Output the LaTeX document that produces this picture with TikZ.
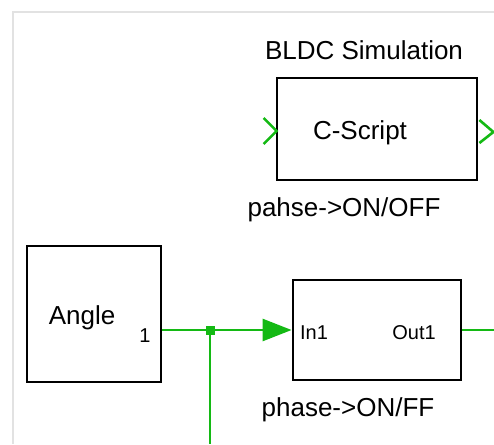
\documentclass[tikz,border=0pt]{standalone}
\usepackage{fontspec}
\setmainfont{Liberation Sans}
\usepackage{tikz}
\usetikzlibrary{positioning,arrows.meta}
\usepackage{xcolor}
\definecolor{wire}{RGB}{20,185,20}
\definecolor{sheet}{RGB}{226,226,226}

\begin{document}
\begin{tikzpicture}[x=1pt, y=-1pt,
    block/.style={draw, line width=2.8pt, rectangle, inner sep=0pt},
    sig/.style={draw=wire, line width=2.6pt},
    txt/.style={font=\fontsize{26}{30}\selectfont, inner sep=0pt},
    port/.style={font=\fontsize{20}{24}\selectfont, inner sep=0pt}]
    \useasboundingbox (0,0) rectangle (494,444);
    % sheet border
    \coordinate (sheetbl) at (13,444);
    \coordinate (sheettl) at (13,12);
    \coordinate (sheettr) at (494,12);
    \draw[sheet, line width=2pt] (sheetbl) -- (sheettl) -- (sheettr);

    % C-Script block
    \node[txt] (simname) at (364,50) {BLDC Simulation};
    \node[block, minimum width=200pt, minimum height=102pt] (script) at (377,129) {};
    \node[txt] (scripttxt) at (360,133) {C-Script};
    \node[txt] (scriptlbl) at (344,210) {pahse->ON/OFF};
    \draw[sig] ([shift={(-12,-11)}]script.west) -- ([shift={(1,2)}]script.west)
               -- ([shift={(-12,15)}]script.west);
    \draw[sig] ([shift={(1,-9)}]script.east) -- ([shift={(15,3)}]script.east)
               -- ([shift={(1,14)}]script.east);

    % Angle source
    \node[block, minimum width=134pt, minimum height=136pt] (angle) at (94,314) {};
    \node[txt] (angletxt) at (82,318) {Angle};
    \node[port] (angleport) at (145,336) {1};

    % subsystem
    \node[block, minimum width=168pt, minimum height=100pt] (sub) at (377,330) {};
    \node[port] (subin) at (314,333) {In1};
    \node[port] (subout) at (414,333) {Out1};
    \node[txt] (sublbl) at (348,410) {phase->ON/FF};

    % wires
    \node[fill=wire, minimum size=9pt, inner sep=0pt] (jdot) at (210,330) {};
    \coordinate (down) at (210,444);
    \coordinate (outend) at (494,330);
    \draw[sig] (angle.east |- jdot) -- (jdot.center);
    \draw[sig, -{Triangle[length=29pt, width=22pt]}] (jdot.center) -- (sub.west);
    \draw[sig] (jdot.center) -- (down);
    \draw[sig] (sub.east) -- (outend);
\end{tikzpicture}
\end{document}
